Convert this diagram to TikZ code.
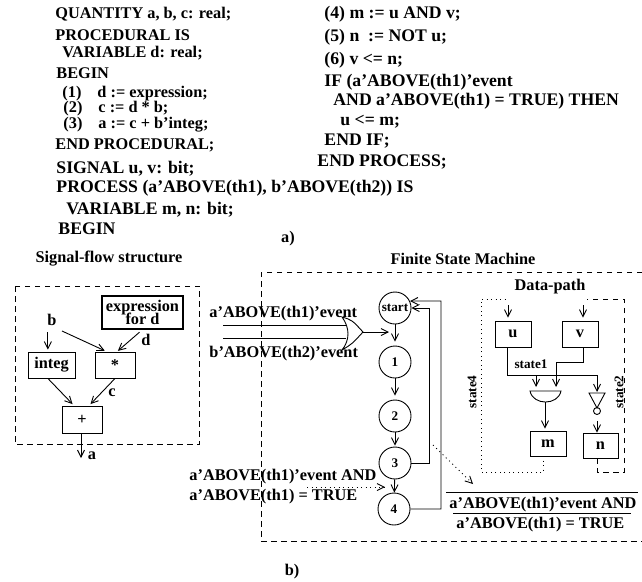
\documentclass[tikz,border=0pt]{standalone}
\usepackage{fontspec}
\setmainfont{Liberation Serif}
\usetikzlibrary{arrows.meta,calc}
\newcommand{\codesize}{\fontsize{16.3}{17}\selectfont\bfseries}
\newcommand{\bigsize}{\fontsize{17.7}{18}\selectfont\bfseries}
\newcommand{\tagsize}{\fontsize{13.2}{14}\selectfont\bfseries}
\begin{document}
\begin{tikzpicture}[x=1pt,y=-1pt,line width=0.9pt,
    codeline/.style={anchor=base west,inner sep=0pt,font=\codesize},
    bigline/.style={anchor=base west,inner sep=0pt,font=\bigsize},
    txtlabel/.style={inner sep=0pt,font=\codesize},
    taglabel/.style={inner sep=0pt,font=\tagsize},
    blockbox/.style={draw,rectangle,inner sep=0pt,font=\codesize},
    statenode/.style={draw,circle,minimum size=32pt,inner sep=0pt,font=\tagsize},
    sig/.style={-{Straight Barb[length=7pt,width=7pt]}},
    boxline/.style={dash pattern=on 5.5pt off 4.5pt},
    dotline/.style={dash pattern=on 1pt off 3.5pt}]
  \useasboundingbox (0,0) rectangle (642,581);

  \node[codeline] (code1) at (55,18.3) {QUANTITY a, b, c: real;};
  \node[codeline] (code2) at (55,40.7) {PROCEDURAL IS};
  \node[codeline] (code3) at (62,57.3) {VARIABLE d: real;};
  \node[codeline] (code4) at (56,78.3) {BEGIN};
  \node[codeline] (code5) at (62,97.7) {(1)};
  \node[codeline] (code5b) at (97,97.7) {d := expression;};
  \node[codeline] (code6) at (63,112) {(2)};
  \node[codeline] (code6b) at (98,112) {c := d * b;};
  \node[codeline] (code7) at (63,128) {(3)};
  \node[codeline] (code7b) at (98,128) {a := c + b'integ;};
  \node[codeline] (code8) at (55,149) {END PROCEDURAL;};
  \node[bigline] (code9) at (56,173) {SIGNAL u, v: bit;};
  \node[bigline] (code10) at (56,192) {PROCESS (a'ABOVE(th1), b'ABOVE(th2)) IS};
  \node[bigline] (code11) at (66,214) {VARIABLE m, n: bit;};
  \node[bigline] (code12) at (58,234) {BEGIN};
  \node[txtlabel] (capA) at (288,239) {a)};

  \node[bigline] (code13) at (324,18) {(4) m := u AND v;};
  \node[bigline] (code14) at (324,41) {(5) n\ \ := NOT u;};
  \node[bigline] (code15) at (324,64) {(6) v <= n;};
  \node[bigline] (code16) at (324,86) {IF (a'ABOVE(th1)'event};
  \node[bigline] (code17) at (333,105) {AND a'ABOVE(th1) = TRUE) THEN};
  \node[bigline] (code18) at (340,125) {u <= m;};
  \node[bigline] (code19) at (324,145) {END IF;};
  \node[bigline] (code20) at (317,166) {END PROCESS;};

  \node[txtlabel] (titleFlow) at (109,259) {Signal-flow structure};
  \draw[boxline] (15,286) rectangle (199.5,444);
  \node[blockbox,line width=1.2pt,minimum width=81pt,minimum height=33pt,align=center] (expr) at (142.5,312.5) {expression\\[-4pt]for d};
  \node[blockbox,minimum width=47pt,minimum height=26pt] (integ) at (51.5,365) {integ};
  \node[blockbox,minimum width=40pt,minimum height=26pt] (mul) at (115,365) {*};
  \node[blockbox,minimum width=40pt,minimum height=27pt] (plus) at (82,419.5) {+};
  \node[txtlabel] (lblB) at (52,320) {b};
  \node[txtlabel] (lblD) at (146,340) {d};
  \node[txtlabel] (lblC) at (112,393) {c};
  \node[txtlabel] (lblOut) at (92,456) {a};
  \coordinate (bFork) at (62,331);
  \coordinate (aEnd) at (81,458);
  \draw[sig,shorten <=6pt,shorten >=2pt] (integ.105 |- lblB.south) -- (integ.105);
  \draw[sig,shorten >=2pt] (bFork) -- (mul.122);
  \draw[sig,shorten <=4pt,shorten >=1pt] (expr.south) -- (mul.81);
  \draw[sig,shorten >=2pt] (integ.255) -- (plus.120);
  \draw[sig,shorten >=2pt] (mul.south) -- (plus.63);
  \draw[sig] (aEnd |- plus.south) -- (aEnd);

  \node[txtlabel] (titleFsm) at (463,259) {Finite State Machine};
  \draw[boxline] (642,272) -- (261,272) -- (261,541) -- (642,541);
  \node[statenode] (start) at (395,308) {start};
  \node[statenode] (s1) at (395,362) {1};
  \node[statenode] (s2) at (395,416) {2};
  \node[statenode] (s3) at (395,463) {3};
  \node[statenode] (s4) at (394,509) {4};
  \coordinate (fbLow) at (429,308);
  \coordinate (fbTop) at (441,301);
  \draw[sig,shorten >=4pt] (start) -- (s1);
  \draw[sig,shorten >=4pt] (s1) -- (s2);
  \draw[sig,shorten >=1pt] (s2) -- (s3);
  \draw[sig] (s3) -- (s4);
  \draw[sig] (s3.east) -| (fbLow) -- (start.east);
  \draw[sig] (s4.east) -| (fbTop) -- (start.25);

  \node[codeline] (inA) at (209,317) {a'ABOVE(th1)'event};
  \node[codeline] (inB) at (209,357) {b'ABOVE(th2)'event};
  \coordinate (gateTop) at (342,317);
  \coordinate (gateBot) at (342,350);
  \coordinate (gateOut) at (363,332);
  \coordinate (railA) at (223,325);
  \coordinate (railB) at (223,338);
  \coordinate (gateA) at (346,325);
  \coordinate (gateB) at (346,338);
  \draw (railA) -- (gateA);
  \draw (railB) -- (gateB);
  \draw (gateTop) .. controls (352,320) .. (gateOut) .. controls (352,344) .. (gateBot) .. controls (350,340) and (350,328) .. (gateTop);
  \draw[sig] (gateOut) -- (389,332);

  \node[codeline] (condL1) at (189,480) {a'ABOVE(th1)'event AND};
  \node[codeline] (condL2) at (189,500) {a'ABOVE(th1) = TRUE};
  \coordinate (dotFrom) at (307,487);
  \coordinate (dotTo) at (385,487);
  \draw[sig,dotline] (dotFrom) -- (dotTo);
  \coordinate (zoomFrom) at (433,445);
  \coordinate (zoomTo) at (473,484);
  \draw[sig,dotline] (zoomFrom) -- (zoomTo);
  \node[codeline] (condR1) at (449,508) {a'ABOVE(th1)'event AND};
  \node[codeline] (condR2) at (456,528) {a'ABOVE(th1) = TRUE};
  \draw (446,492) -- (638,492);
  \draw (453,513) -- (631,513);

  \node[txtlabel] (titlePath) at (550,287) {Data-path};
  \node[blockbox,minimum width=36pt,minimum height=26pt] (u) at (513,334) {u};
  \node[blockbox,minimum width=36pt,minimum height=26pt] (v) at (580,334) {v};
  \node[blockbox,minimum width=36pt,minimum height=25pt] (m) at (548,443.5) {m};
  \node[blockbox,minimum width=35pt,minimum height=25pt] (n) at (600.5,445.5) {n};
  \node[taglabel] (lblState1) at (531,364) {state1};
  \node[taglabel,rotate=90] (lblState4) at (472,392) {state4};
  \node[taglabel,rotate=90] (lblState2) at (619,392) {state2};
  \coordinate (uIn) at (508,305);
  \coordinate (vIn) at (583,305);
  \draw[sig,shorten >=3pt] (uIn) -- (uIn |- u.north);
  \draw[sig,shorten >=3pt] (vIn) -- (vIn |- v.north);
  \coordinate (busEnd) at (597,375);
  \coordinate (invTop) at (597,392);
  \coordinate (busAnd) at (536,375);
  \coordinate (andIn) at (536,387);
  \coordinate (vMid) at (556,362);
  \coordinate (vIn2) at (556,387);
  \coordinate (andOut) at (545,402);
  \draw[sig] (u.249) |- (busEnd) -- (invTop);
  \draw[sig] (busAnd) -- (andIn);
  \draw[sig] (v.283) |- (vMid) -- (vIn2);
  \draw (530,391) .. controls (533,405.7) and (558,405.7) .. (561,391) -- cycle;
  \draw[sig,shorten >=2pt] (andOut) -- (andOut |- m.north);
  \draw (589,393) -- (605,393) -- (597,408) -- cycle;
  \node[draw,circle,minimum size=7pt,inner sep=0pt] (bubble) at (597,411) {};
  \draw[sig,shorten <=6pt] (bubble.south) -- (bubble.south |- n.north);
  \coordinate (mTail) at (543,456);
  \coordinate (nTail) at (597,458);
  \draw[dotline] (mTail) -- (543,472) -- (481,472) -- (481,299) -- (508,299);
  \draw[boxline] (nTail) -- (597,472) -- (624,472) -- (624,299) -- (587,299);

  \node[txtlabel] (capB) at (292,572) {b)};
\end{tikzpicture}
\end{document}
